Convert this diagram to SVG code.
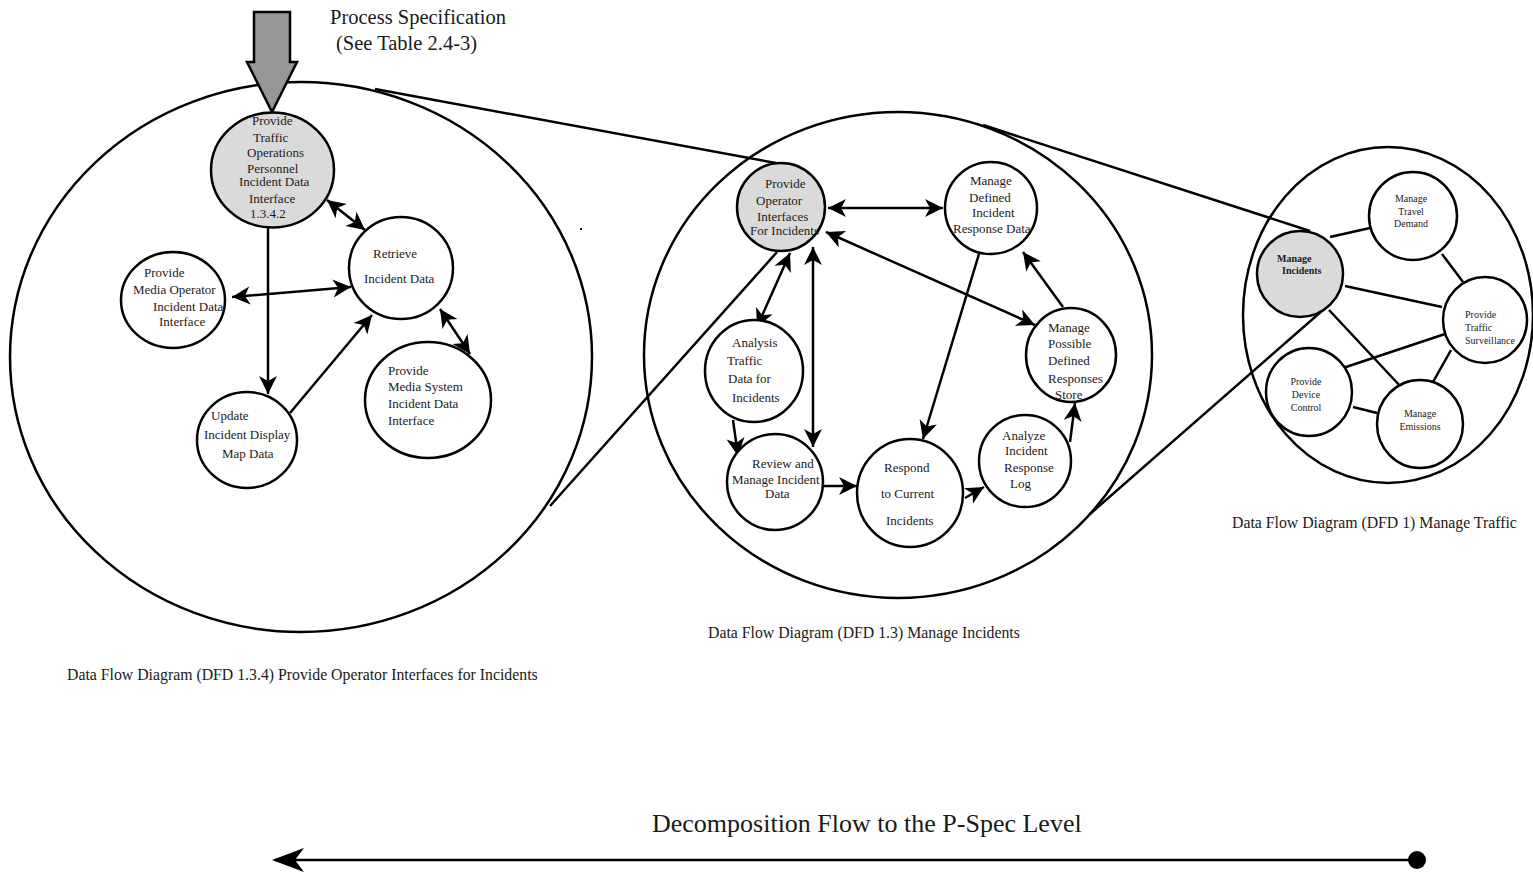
<svg xmlns="http://www.w3.org/2000/svg" width="1533" height="875" viewBox="0 0 1533 875">
<style>
.big{fill:none;stroke:#000;stroke-width:2.5}
.node{fill:#fff;stroke:#000;stroke-width:2.5}
.gray{fill:#dadada;stroke:#000;stroke-width:2.5}
.t{font-family:"Liberation Serif","Times New Roman",serif;font-size:13px;fill:#1a1a1a}
.ts{font-family:"Liberation Serif","Times New Roman",serif;font-size:10px;fill:#1a1a1a}
.tb{font-family:"Liberation Serif","Times New Roman",serif;font-size:10px;font-weight:bold;fill:#1a1a1a}
.lab{font-family:"Liberation Serif","Times New Roman",serif;font-size:15.8px;fill:#1a1a1a}
.c{fill:none;stroke:#000;stroke-width:2.5}
.a{fill:none;stroke:#000;stroke-width:2.5;marker-end:url(#ah)}
.aa{fill:none;stroke:#000;stroke-width:2.5;marker-end:url(#ah);marker-start:url(#ah)}
</style>
<defs>
<marker id="ah" markerUnits="userSpaceOnUse" viewBox="-20 -11 22 22" refX="0" refY="0" markerWidth="22" markerHeight="22" orient="auto-start-reverse">
<path d="M0,0 L-18,-9 L-13,0 L-18,9 Z" fill="#000"/>
</marker>
</defs>
<rect width="1533" height="875" fill="#fff"/>

<g id="scopes">
<ellipse class="big" cx="301" cy="357" rx="291" ry="275"/>
<ellipse class="big" cx="898" cy="355" rx="254" ry="243"/>
<ellipse class="big" cx="1388" cy="315" rx="145" ry="168"/>
</g>

<g id="connectors">
<line class="c" x1="375" y1="89" x2="776" y2="163"/>
<line class="c" x1="550" y1="506" x2="777" y2="252"/>
<line class="c" x1="983" y1="125" x2="1310" y2="231"/>
<line class="c" x1="1090" y1="514" x2="1323" y2="310"/>
<!-- left -->
<line class="a" x1="268" y1="228" x2="268" y2="394"/>
<line class="aa" x1="232" y1="297" x2="351" y2="287"/>
<line class="a" x1="290" y1="413" x2="372" y2="315"/>
<line class="aa" x1="440" y1="309" x2="470" y2="354"/>
<line class="aa" x1="327" y1="200" x2="365" y2="230"/>
<!-- middle -->
<line class="aa" x1="828" y1="208" x2="943" y2="208"/>
<line class="aa" x1="826" y1="232" x2="1035" y2="325"/>
<line class="a" x1="1063" y1="307" x2="1023" y2="252"/>
<line class="aa" x1="790" y1="253" x2="757" y2="327"/>
<line class="aa" x1="813" y1="247" x2="813" y2="447"/>
<line class="a" x1="979" y1="254" x2="923" y2="439"/>
<line class="a" x1="733" y1="420" x2="738" y2="456"/>
<line class="a" x1="823" y1="486" x2="857" y2="486"/>
<line class="a" x1="965" y1="498" x2="984" y2="487"/>
<line class="a" x1="1070" y1="442" x2="1075" y2="403"/>
<!-- right -->
<line class="c" x1="1330" y1="237" x2="1370" y2="228"/>
<line class="c" x1="1442" y1="254" x2="1463" y2="282"/>
<line class="c" x1="1345" y1="286" x2="1442" y2="307"/>
<line class="c" x1="1329" y1="310" x2="1402" y2="388"/>
<line class="c" x1="1343" y1="368" x2="1445" y2="334"/>
<line class="c" x1="1451" y1="350" x2="1433" y2="382"/>
<line class="c" x1="1353" y1="407" x2="1377" y2="413"/>
<!-- decomposition -->
<line x1="1417" y1="860" x2="275" y2="860" stroke="#000" stroke-width="2.5"/>
<path d="M272,860 L304,848 L295,860 L304,872 Z" fill="#000"/>
<circle cx="1417" cy="860" r="9" fill="#000"/>
</g>

<g id="pspec">
<polygon points="254,12 290,12 290,62 297,62 272,112 247,62 254,62" fill="#969696" stroke="#000" stroke-width="2.5" stroke-linejoin="miter"/>
<text x="330" y="24" font-family="Liberation Serif, Times New Roman, serif" font-size="20.5" fill="#1a1a1a">Process Specification</text>
<text x="336" y="50" font-family="Liberation Serif, Times New Roman, serif" font-size="20.5" fill="#1a1a1a">(See Table 2.4-3)</text>
</g>

<g id="n-1342">
<ellipse class="gray" cx="272.5" cy="170" rx="61.5" ry="57.5"/>
<text class="t" x="252" y="125">Provide</text>
<text class="t" x="253" y="142">Traffic</text>
<text class="t" x="247" y="157">Operations</text>
<text class="t" x="247" y="173">Personnel</text>
<text class="t" x="239" y="186">Incident Data</text>
<text class="t" x="249" y="203">Interface</text>
<text class="t" x="250" y="218">1.3.4.2</text>
</g>
<g id="n-retrieve">
<ellipse class="node" cx="401" cy="268" rx="52" ry="51"/>
<text class="t" x="373" y="258">Retrieve</text>
<text class="t" x="364" y="283">Incident Data</text>
</g>
<g id="n-mediaop">
<ellipse class="node" cx="173" cy="300" rx="52" ry="48"/>
<text class="t" x="144" y="277">Provide</text>
<text class="t" x="133" y="294">Media Operator</text>
<text class="t" x="153" y="311">Incident Data</text>
<text class="t" x="159" y="326">Interface</text>
</g>
<g id="n-update">
<ellipse class="node" cx="247" cy="440" rx="50" ry="48"/>
<text class="t" x="211" y="420">Update</text>
<text class="t" x="204" y="439">Incident Display</text>
<text class="t" x="222" y="458">Map Data</text>
</g>
<g id="n-mediasys">
<ellipse class="node" cx="428" cy="400" rx="63" ry="58"/>
<text class="t" x="388" y="375">Provide</text>
<text class="t" x="388" y="391">Media System</text>
<text class="t" x="388" y="408">Incident Data</text>
<text class="t" x="388" y="425">Interface</text>
</g>
<rect x="580" y="228" width="2" height="2" fill="#000"/>

<g id="n-poi">
<ellipse class="gray" cx="781" cy="207" rx="44" ry="44"/>
<text class="t" x="765" y="188">Provide</text>
<text class="t" x="756" y="205">Operator</text>
<text class="t" x="757" y="221">Interfaces</text>
<text class="t" x="750" y="235">For Incidents</text>
</g>
<g id="n-mdird">
<ellipse class="node" cx="991" cy="208" rx="46" ry="46"/>
<text class="t" x="970" y="185">Manage</text>
<text class="t" x="969" y="202">Defined</text>
<text class="t" x="972" y="217">Incident</text>
<text class="t" x="953" y="233">Response Data</text>
</g>
<g id="n-mpdrs">
<ellipse class="node" cx="1071" cy="355" rx="45" ry="47"/>
<text class="t" x="1048" y="332">Manage</text>
<text class="t" x="1048" y="348">Possible</text>
<text class="t" x="1048" y="365">Defined</text>
<text class="t" x="1048" y="383">Responses</text>
<text class="t" x="1055" y="399">Store</text>
</g>
<g id="n-analysis">
<ellipse class="node" cx="754" cy="371" rx="49" ry="51"/>
<text class="t" x="732" y="347">Analysis</text>
<text class="t" x="727" y="365">Traffic</text>
<text class="t" x="728" y="383">Data for</text>
<text class="t" x="732" y="402">Incidents</text>
</g>
<g id="n-review">
<ellipse class="node" cx="775" cy="482" rx="48" ry="48"/>
<text class="t" x="752" y="468">Review and</text>
<text class="t" x="732" y="484">Manage Incident</text>
<text class="t" x="765" y="498">Data</text>
</g>
<g id="n-respond">
<ellipse class="node" cx="910" cy="493" rx="53" ry="54"/>
<text class="t" x="884" y="472">Respond</text>
<text class="t" x="881" y="498">to Current</text>
<text class="t" x="886" y="525">Incidents</text>
</g>
<g id="n-analyze">
<ellipse class="node" cx="1025" cy="461" rx="46" ry="46"/>
<text class="t" x="1002" y="440">Analyze</text>
<text class="t" x="1005" y="455">Incident</text>
<text class="t" x="1004" y="472">Response</text>
<text class="t" x="1010" y="488">Log</text>
</g>

<g id="n-mi">
<ellipse class="gray" cx="1300" cy="274" rx="43" ry="43"/>
<text class="tb" x="1277" y="262">Manage</text>
<text class="tb" x="1282" y="274">Incidents</text>
</g>
<g id="n-mtd">
<ellipse class="node" cx="1413" cy="216" rx="44" ry="44"/>
<text class="ts" x="1411" y="202" text-anchor="middle">Manage</text>
<text class="ts" x="1411" y="215" text-anchor="middle">Travel</text>
<text class="ts" x="1411" y="227" text-anchor="middle">Demand</text>
</g>
<g id="n-pts">
<ellipse class="node" cx="1485" cy="320" rx="42" ry="43"/>
<text class="ts" x="1465" y="318">Provide</text>
<text class="ts" x="1465" y="331">Traffic</text>
<text class="ts" x="1465" y="344">Surveillance</text>
</g>
<g id="n-pdc">
<ellipse class="node" cx="1309" cy="392" rx="43" ry="44"/>
<text class="ts" x="1306" y="385" text-anchor="middle">Provide</text>
<text class="ts" x="1306" y="398" text-anchor="middle">Device</text>
<text class="ts" x="1306" y="411" text-anchor="middle">Control</text>
</g>
<g id="n-me">
<ellipse class="node" cx="1420" cy="424" rx="43" ry="44"/>
<text class="ts" x="1420" y="417" text-anchor="middle">Manage</text>
<text class="ts" x="1420" y="430" text-anchor="middle">Emissions</text>
</g>

<g id="labels">
<text class="lab" x="67" y="680">Data Flow Diagram (DFD 1.3.4) Provide Operator Interfaces for Incidents</text>
<text class="lab" x="708" y="638">Data Flow Diagram (DFD 1.3) Manage Incidents</text>
<text class="lab" x="1232" y="528">Data Flow Diagram (DFD 1) Manage Traffic</text>
<text x="652" y="832" font-family="Liberation Serif, Times New Roman, serif" font-size="26" fill="#1a1a1a">Decomposition Flow to the P-Spec Level</text>
</g>
</svg>
